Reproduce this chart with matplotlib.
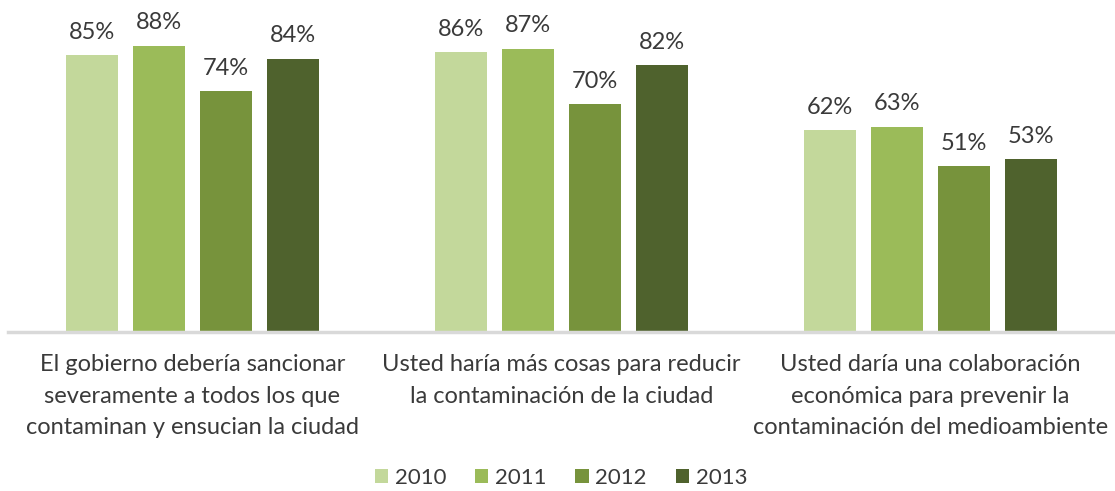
import matplotlib
matplotlib.use("Agg")
import matplotlib.pyplot as plt
import numpy as np

categories = [
    "El gobierno debería sancionar\nseveramente a todos los que\ncontaminan y ensucian la ciudad",
    "Usted haría más cosas para reducir\nla contaminación de la ciudad",
    "Usted daría una colaboración\neconómica para prevenir la\ncontaminación del medioambiente",
]
years = ["2010", "2011", "2012", "2013"]
values = {
    "2010": [85, 86, 62],
    "2011": [88, 87, 63],
    "2012": [74, 70, 51],
    "2013": [84, 82, 53],
}
colors = ["#C3D89B", "#9BBB59", "#77933C", "#4F622D"]

plt.rcParams["font.family"] = ["Lato", "DejaVu Sans"]
text_color = "#3A3A3A"

fig = plt.figure(figsize=(11.15, 4.91), dpi=100)
ax = fig.add_axes([8 / 1115, 159 / 491, 1107 / 1115, 332 / 491])

x = np.arange(len(categories))
step = 0.1816
width = 0.141
for i, yr in enumerate(years):
    pos = x + (i - 1.5) * step
    bars = ax.bar(pos, values[yr], width=width, color=colors[i], label=yr, zorder=2)
    for b, v in zip(bars, values[yr]):
        ax.annotate(f"{v}%", (b.get_x() + b.get_width() / 2, v),
                    xytext=(0, 9), textcoords="offset points",
                    ha="center", va="bottom", fontsize=17, color=text_color)

ax.set_xlim(-0.5, len(categories) - 0.5)
ax.set_ylim(0, 102)
ax.set_yticks([])
ax.set_xticks(x)
ax.set_xticklabels(categories, fontsize=17, color=text_color, linespacing=1.62)
ax.tick_params(axis="x", length=0, pad=16)
for s in ["top", "right", "left"]:
    ax.spines[s].set_visible(False)
ax.spines["bottom"].set_color("#D9D9D9")
ax.spines["bottom"].set_linewidth(2.5)

leg = fig.legend(loc="center", bbox_to_anchor=(561 / 1115, 1 - 478 / 491), ncol=4,
                 frameon=False, fontsize=16, handlelength=0.6, handleheight=0.6,
                 handletextpad=0.3, columnspacing=1.3)
for t in leg.get_texts():
    t.set_color(text_color)

fig.savefig("out.png", dpi=100)
